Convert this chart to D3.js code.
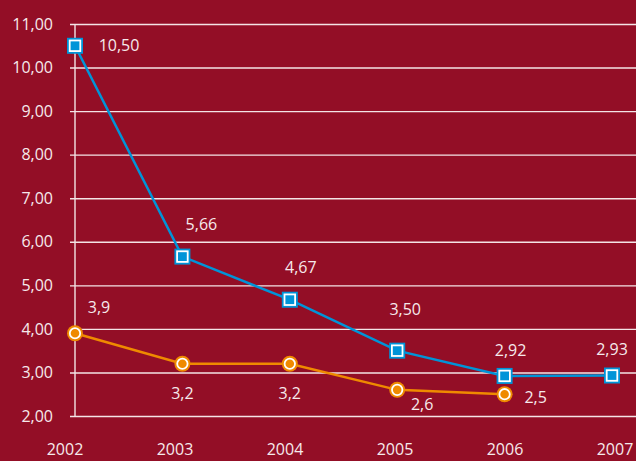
<!DOCTYPE html>
<html>
<head>
<meta charset="utf-8">
<script src="https://cdn.jsdelivr.net/npm/d3@7"></script>
<style>
  body { margin: 0; background: #930e26; }
  svg { display: block; }
  text { font-family: "Open Sans", "Noto Sans", sans-serif; fill: #f6e9eb; }
</style>
</head>
<body>
<svg id="chart" width="636" height="461"></svg>
<script>
// chart data
let years = ['2002', '2003', '2004', '2005', '2006', '2007']
let blueValues = [10.50, 5.66, 4.67, 3.50, 2.92, 2.93]
let blueLabels = ['10,50', '5,66', '4,67', '3,50', '2,92', '2,93']
let orangeValues = [3.9, 3.2, 3.2, 2.6, 2.5]
let orangeLabels = ['3,9', '3,2', '3,2', '2,6', '2,5']
let yTicks = [2, 3, 4, 5, 6, 7, 8, 9, 10, 11]

// label offsets (dx, dy) relative to each point
let blueOffsets = [[44, 0], [19, -32], [11, -32], [8, -41], [6, -26], [0, -26]]
let orangeOffsets = [[24, -26], [0, 30], [0, 30], [25, 15], [31, 3]]

let w = 636
let h = 461
let fs = 16
let blue = '#0094d8'
let orange = '#ef8a00'

let svg = d3.select('#chart')

let x = d3.scalePoint().domain(years).range([75, 612])
let xLabel = d3.scalePoint().domain(years).range([65, 615]) // axis labels sit on their own spacing
let y = d3.scaleLinear().domain([2, 11]).range([416, 24])

// grid lines
svg.append('g')
  .attr('transform', 'translate(70,0)')
  .call(d3.axisLeft(y).tickValues(yTicks).tickSize(-(w - 70)).tickFormat(d => d3.format('.2f')(d).replace('.', ',')))
  .call(g => g.select('.domain').remove())
  .call(g => g.selectAll('.tick line').attr('stroke', '#f4e4e6').attr('stroke-width', 1.4))
  .call(g => g.selectAll('.tick text').attr('x', -17).attr('font-size', fs).attr('fill', '#f6e9eb'))

// vertical axis line
svg.append('line')
  .attr('x1', 75).attr('x2', 75)
  .attr('y1', y(11)).attr('y2', y(2))
  .attr('stroke', '#f4e4e6').attr('stroke-width', 1.4)

// x labels
svg.selectAll('.xlab')
  .data(years)
  .enter()
  .append('text')
  .attr('class', 'xlab')
  .attr('x', d => xLabel(d))
  .attr('y', 455)
  .attr('text-anchor', 'middle')
  .attr('font-size', fs)
  .text(d => d)

let line = d3.line()
  .x((d, i) => x(years[i]))
  .y(d => y(d))

// orange series
svg.append('path')
  .datum(orangeValues)
  .attr('d', line)
  .attr('fill', 'none')
  .attr('stroke', orange)
  .attr('stroke-width', 2.5)

let oPts = svg.selectAll('.opt')
  .data(orangeValues)
  .enter()
  .append('g')
  .attr('class', 'opt')
  .attr('transform', (d, i) => `translate(${x(years[i])},${y(d)})`)
oPts.append('circle').attr('r', 8).attr('fill', orange)
oPts.append('circle').attr('r', 5.2).attr('fill', orange).attr('stroke', '#fff').attr('stroke-width', 1.8)

// blue series
svg.append('path')
  .datum(blueValues)
  .attr('d', line)
  .attr('fill', 'none')
  .attr('stroke', blue)
  .attr('stroke-width', 2.5)

let bPts = svg.selectAll('.bpt')
  .data(blueValues)
  .enter()
  .append('g')
  .attr('class', 'bpt')
  .attr('transform', (d, i) => `translate(${x(years[i])},${y(d)})`)
bPts.append('rect').attr('x', -8).attr('y', -8).attr('width', 16).attr('height', 16).attr('fill', blue)
bPts.append('rect').attr('x', -5.3).attr('y', -5.3).attr('width', 10.6).attr('height', 10.6)
  .attr('fill', blue).attr('stroke', '#fff').attr('stroke-width', 1.8)

// value labels
svg.selectAll('.blab')
  .data(blueValues)
  .enter()
  .append('text')
  .attr('x', (d, i) => x(years[i]) + blueOffsets[i][0])
  .attr('y', (d, i) => y(d) + blueOffsets[i][1])
  .attr('dy', '0.35em')
  .attr('text-anchor', 'middle')
  .attr('font-size', fs)
  .text((d, i) => blueLabels[i])

svg.selectAll('.olab')
  .data(orangeValues)
  .enter()
  .append('text')
  .attr('x', (d, i) => x(years[i]) + orangeOffsets[i][0])
  .attr('y', (d, i) => y(d) + orangeOffsets[i][1])
  .attr('dy', '0.35em')
  .attr('text-anchor', 'middle')
  .attr('font-size', fs)
  .text((d, i) => orangeLabels[i])
</script>
</body>
</html>
